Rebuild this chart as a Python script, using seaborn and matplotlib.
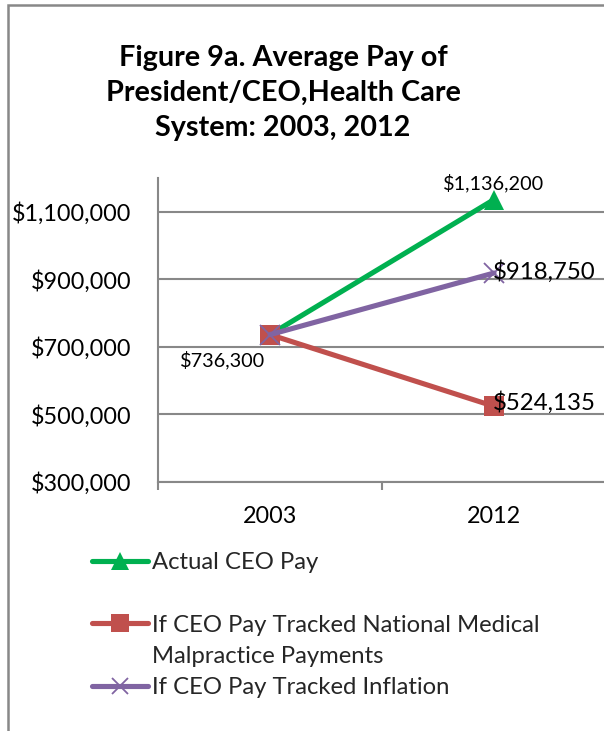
import matplotlib
matplotlib.use("Agg")
import matplotlib.pyplot as plt
from matplotlib.lines import Line2D
from matplotlib.patches import Rectangle
from matplotlib.ticker import FuncFormatter, FixedLocator
import seaborn as sns
import pandas as pd

# ---- data ----
years = ["2003", "2012"]
actual_pay = [736300, 1136200]
malpractice_pay = [736300, 524135]
inflation_pay = [736300, 918750]

series_names = [
    "Actual CEO Pay",
    "If CEO Pay Tracked National Medical Malpractice Payments",
    "If CEO Pay Tracked Inflation",
]
y_ticks = [300000, 500000, 700000, 900000, 1100000]

GREEN, RED, PURPLE = "#00B050", "#C0504D", "#8064A2"
GRID = "#888888"
FONT = "Lato"
TICK_FS = 16.8
BIG_LABEL_FS = 17.3
SMALL_LABEL_FS = 14.3
LEGEND_FS = 17.2

sns.set_theme(style="white")
plt.rcParams["font.family"] = [FONT, "DejaVu Sans"]

df = pd.DataFrame({
    "year": years * 3,
    "pos": [0, 1] * 3,
    "pay": actual_pay + malpractice_pay + inflation_pay,
    "series": [n for n in series_names for _ in years],
})

W, H = 604, 731
fig = plt.figure(figsize=(W / 100, H / 100), dpi=100)
ax = fig.add_axes([158 / W, 1 - 482 / H, 448 / W, (482 - 178) / H])

styles = {
    series_names[0]: dict(color=GREEN, marker="^", ms=15, mew=0),
    series_names[1]: dict(color=RED, marker="s", ms=14.5, mew=0),
    series_names[2]: dict(color=PURPLE, marker="x", ms=14, mew=1.3),
}

for name in series_names:
    st = styles[name]
    sub = df[df["series"] == name]
    sns.lineplot(data=sub, x="pos", y="pay", ax=ax, color=st["color"],
                 marker=st["marker"], markersize=st["ms"],
                 markeredgewidth=st["mew"], markeredgecolor=st["color"],
                 linewidth=3.7, solid_capstyle="round", legend=False,
                 zorder=3)

ax.set_xlim(-0.5, 1.5)
ax.set_ylim(300000, 1200000)
ax.yaxis.set_major_locator(FixedLocator(y_ticks))
ax.yaxis.set_major_formatter(FuncFormatter(lambda v, p: f"${v:,.0f}"))
ax.set_xticks([0, 1])
ax.set_xticklabels(years)
ax.xaxis.set_minor_locator(FixedLocator([-0.5, 0.5, 1.5]))
ax.set_xlabel("")
ax.set_ylabel("")

ax.grid(axis="y", color=GRID, linewidth=1.5)
ax.set_axisbelow(True)
for s in ["top", "right"]:
    ax.spines[s].set_visible(False)
for s in ["left", "bottom"]:
    ax.spines[s].set_color(GRID)
    ax.spines[s].set_linewidth(1.5)

ax.tick_params(axis="y", which="major", length=6, width=1.5, color=GRID,
               direction="out", pad=13, labelsize=TICK_FS, labelcolor="black")
ax.tick_params(axis="x", which="major", length=0, pad=17, labelsize=TICK_FS,
               labelcolor="black")
ax.tick_params(axis="x", which="minor", length=6, width=1.5, color=GRID,
               direction="out")
ax.tick_params(axis="x", which="minor", bottom=True)

# ---- data labels ----
fmt = lambda v: f"${v:,.0f}"
ax.annotate(fmt(actual_pay[1]), (1, actual_pay[1]), xytext=(0, 12),
            textcoords="offset points", ha="center", va="center",
            fontsize=SMALL_LABEL_FS, color="black", zorder=5)
ax.annotate(fmt(inflation_pay[1]), (1, inflation_pay[1]), xytext=(-1, 1),
            textcoords="offset points", ha="left", va="center",
            fontsize=BIG_LABEL_FS, color="black", zorder=5)
ax.annotate(fmt(malpractice_pay[1]), (1, malpractice_pay[1]), xytext=(-1, 3),
            textcoords="offset points", ha="left", va="center",
            fontsize=BIG_LABEL_FS, color="black", zorder=5)
ax.annotate(fmt(actual_pay[0]), (0, actual_pay[0]), xytext=(-34, -18),
            textcoords="offset points", ha="center", va="center",
            fontsize=SMALL_LABEL_FS, color="black", zorder=5)

# ---- title ----
fig.text(283 / W, 1 - 93 / H,
         "Figure 9a. Average Pay of\nPresident/CEO,Health Care\nSystem: 2003, 2012",
         ha="center", va="center", fontsize=20.7, fontweight="bold",
         linespacing=1.42, color="black")

# ---- legend ----
def handle(name):
    st = styles[name]
    return Line2D([], [], color=st["color"], marker=st["marker"],
                  markersize=st["ms"] * 0.85, markeredgewidth=st["mew"],
                  markeredgecolor=st["color"], linewidth=3.7,
                  solid_capstyle="round")

blank = Line2D([], [], linestyle="none", marker="none")
handles = [handle(series_names[0]), blank, handle(series_names[1]), blank,
           handle(series_names[2])]
labels = ["Actual CEO Pay", " ", "If CEO Pay Tracked National Medical",
          "Malpractice Payments", "If CEO Pay Tracked Inflation"]
leg = fig.legend(handles, labels, loc="upper left",
                 bbox_to_anchor=(92 / W, 1 - 552 / H),
                 frameon=False, fontsize=LEGEND_FS, handlelength=2.35,
                 handletextpad=0.18, labelspacing=0.43, borderpad=0,
                 borderaxespad=0)

# ---- outer chart frame ----
fig.patches.append(Rectangle((8 / W, -0.1), 1.2, 1 - 5 / H + 0.1,
                             transform=fig.transFigure, fill=False,
                             edgecolor="#888888", linewidth=1.8))

fig.savefig("out.png", dpi=100, facecolor="white")
